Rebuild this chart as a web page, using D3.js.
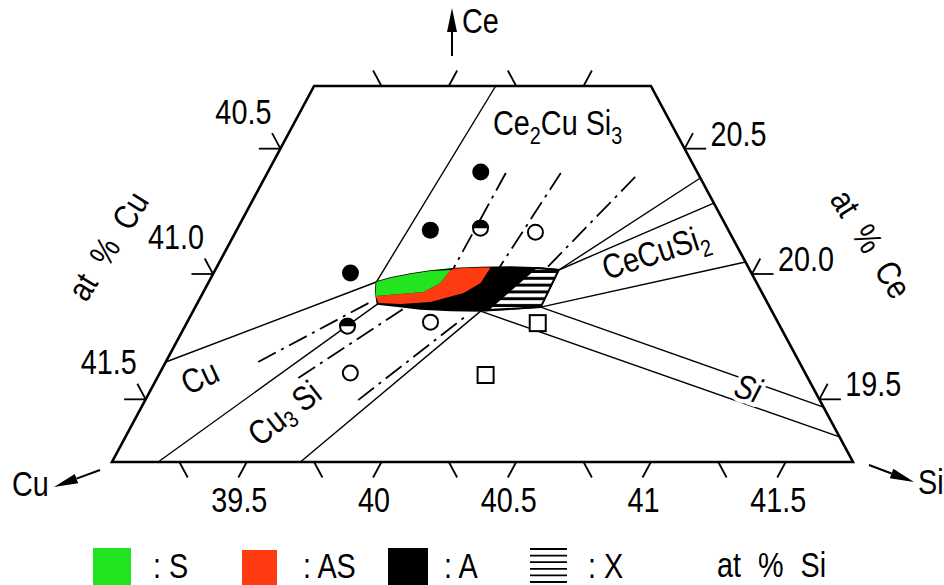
<!DOCTYPE html>
<html>
<head>
<meta charset="utf-8">
<script src="https://cdn.jsdelivr.net/npm/d3@7"></script>
<style>
  body { margin: 0; background: #fff; }
  text { font-family: "Liberation Sans", Arial, sans-serif; fill: #000; }
</style>
</head>
<body>
<svg id="chart" width="944" height="585"></svg>
<script>
// compositions are [at% Si, at% Ce]; Cu = 100 - Si - Ce
const siMin = 39, cuMin = 39, ceMin = 19.25, ceMax = 20.75;

const siTicks = [39.5, 40, 40.5, 41, 41.5];
const siTickLabels = ['39.5', '40', '40.5', '41', '41.5'];
const cuTicksBottom = [41.5, 41, 40.5, 40, 39.5];
const siTicksTop = [39.5, 40];
const cuTicksTop = [40, 39.5];
const cuTicks = [40.5, 41.0, 41.5];
const cuTickLabels = ['40.5', '41.0', '41.5'];
const ceTicks = [20.5, 20.0, 19.5];
const ceTickLabels = ['20.5', '20.0', '19.5'];

// homogeneity region of the ternary phase
const lensOutline = [
  [39.622, 19.968], [39.666, 19.984], [39.733, 20.000], [39.801, 20.012], [39.889, 20.022],
  [39.980, 20.026], [40.091, 20.028], [40.204, 20.024], [40.275, 20.016], [40.282, 19.868],
  [40.175, 19.860], [40.067, 19.852], [39.955, 19.854], [39.840, 19.860], [39.741, 19.872],
  [39.670, 19.880], [39.639, 19.928]
];
const phaseS = [
  [39.622, 19.968], [39.666, 19.984], [39.733, 20.000], [39.801, 20.012], [39.874, 20.016],
  [39.862, 19.964], [39.817, 19.928], [39.736, 19.920], [39.647, 19.912], [39.639, 19.928]
];
const phaseAS = [
  [39.874, 20.016], [39.889, 20.022], [39.980, 20.026], [40.017, 20.026], [40.011, 19.964],
  [39.968, 19.924], [39.863, 19.888], [39.756, 19.880], [39.672, 19.884], [39.647, 19.912],
  [39.736, 19.920], [39.817, 19.928], [39.862, 19.964]
];
const phaseX = [[40.185, 20.024], [40.275, 20.016], [40.282, 19.868], [40.091, 19.856]];

// phase boundaries (solid) and tie lines through samples (dash-dot)
const boundaryLines = [
  [[39.674, 20.750], [39.622, 19.968]],
  [[39.000, 19.649], [39.622, 19.968]],
  [[39.171, 19.250], [39.670, 19.880]],
  [[39.699, 19.250], [40.067, 19.852]],
  [[40.275, 20.016], [40.617, 20.383]],
  [[40.275, 20.016], [40.717, 20.283]],
  [[40.282, 19.868], [40.952, 20.048]],
  [[40.282, 19.868], [41.531, 19.469]],
  [[40.067, 19.852], [41.650, 19.350]]
];
const tieLines = [
  [[39.885, 20.403], [39.881, 20.024]],
  [[40.089, 20.403], [40.050, 20.028]],
  [[40.373, 20.387], [40.226, 20.024]],
  [[39.343, 19.649], [39.640, 19.888]],
  [[39.524, 19.585], [39.786, 19.872]],
  [[39.790, 19.497], [40.028, 19.840]]
];

const fullDots = [[39.790, 20.407], [39.719, 20.175], [39.508, 20.004]];
const halfDots = [[39.901, 20.183], [39.603, 19.792]];
const openDots = [[40.113, 20.167], [39.903, 19.808], [39.707, 19.605]];
const squares = [[40.303, 19.804], [40.213, 19.597]];

const svg = d3.select('#chart');

const xS = d3.scaleLinear().domain([siMin, 100 - cuMin - ceMin]).range([112, 853]);
const yS = d3.scaleLinear().domain([ceMin, ceMax]).range([462, 86]);
const pt = d => [xS(d[0] + (d[1] - ceMin) / 2), yS(d[1])];
const path = d3.line().x(d => pt(d)[0]).y(d => pt(d)[1]);

// narrow, tall lettering like the drawing
function txt(x, y, parts, opts = {}) {
  const t = svg.append('text')
    .attr('transform', `translate(${x},${y}) rotate(${opts.rot || 0}) scale(0.9,1.07)`)
    .attr('text-anchor', opts.anchor || 'start')
    .attr('font-size', 32);
  if (opts.central) t.attr('dominant-baseline', 'central');
  if (opts.italic) t.attr('font-style', 'italic');
  if (opts.wide) t.attr('word-spacing', 10);
  if (opts.halo) t.attr('stroke', '#fff').attr('stroke-width', 8).attr('paint-order', 'stroke');
  if (typeof parts === 'string') parts = [[parts]];
  let down = 0;
  parts.forEach(([s, sub]) => {
    const ts = t.append('tspan').text(s);
    if (sub) { ts.attr('font-size', 22).attr('dy', 8 - down); down = 8; }
    else { ts.attr('dy', -down); down = 0; }
  });
  return t;
}

const defs = svg.append('defs');
const pat = defs.append('pattern')
  .attr('id', 'hatch')
  .attr('patternUnits', 'userSpaceOnUse')
  .attr('width', 10).attr('height', 6.8)
  .attr('y', 1);
pat.append('rect').attr('width', 10).attr('height', 6.8).attr('fill', '#000');
pat.append('rect').attr('width', 10).attr('height', 3.8).attr('fill', '#fff');

// frame
const frame = [[siMin, ceMin], [100 - cuMin - ceMin, ceMin], [100 - cuMin - ceMax, ceMax], [siMin, ceMax]];
svg.append('path')
  .attr('d', path(frame) + 'Z')
  .attr('fill', 'none')
  .attr('stroke', '#000')
  .attr('stroke-width', 2.6);

// ticks
const tl = 0.062, hl = 0.08;
const ticks = [];
siTicks.forEach(s => ticks.push({ p: [s, ceMin], d: [0, -tl] }));
cuTicksBottom.forEach(c => ticks.push({ p: [100 - c - ceMin, ceMin], d: [tl, -tl] }));
siTicksTop.forEach(s => ticks.push({ p: [s, ceMax], d: [0, tl] }));
cuTicksTop.forEach(c => ticks.push({ p: [100 - c - ceMax, ceMax], d: [-tl, tl] }));
cuTicks.forEach(c => {
  const p = [siMin, 100 - siMin - c];
  ticks.push({ p, d: [-hl, 0] });
  ticks.push({ p, d: [-tl, tl] });
});
ceTicks.forEach(e => {
  const p = [100 - cuMin - e, e];
  ticks.push({ p, d: [hl, 0] });
  ticks.push({ p, d: [0, tl] });
});
svg.append('g').selectAll('path')
  .data(ticks)
  .enter().append('path')
  .attr('d', t => path([t.p, [t.p[0] + t.d[0], t.p[1] + t.d[1]]]))
  .attr('stroke', '#000')
  .attr('stroke-width', 1.8);

// tick labels
siTicks.forEach((s, i) => {
  txt(pt([s, ceMin - tl])[0] + 1, yS(ceMin) + 50, siTickLabels[i], { anchor: 'middle' });
});
cuTicks.forEach((c, i) => {
  const p = pt([siMin, 100 - siMin - c]);
  txt(p[0] - 9, p[1] - 25, cuTickLabels[i], { anchor: 'end' });
});
ceTicks.forEach((e, i) => {
  const p = pt([100 - cuMin - e, e]);
  txt(p[0] + 26, p[1] - 3, ceTickLabels[i]);
});

// boundaries
svg.append('g').selectAll('path')
  .data(boundaryLines)
  .enter().append('path')
  .attr('d', path)
  .attr('fill', 'none')
  .attr('stroke', '#000')
  .attr('stroke-width', 1.4);

svg.append('g').selectAll('path')
  .data(tieLines)
  .enter().append('path')
  .attr('d', path)
  .attr('fill', 'none')
  .attr('stroke', '#000')
  .attr('stroke-width', 1.8)
  .attr('stroke-dasharray', '20,6,3,6');

// phase region
svg.append('path').attr('d', path(lensOutline) + 'Z')
  .attr('fill', '#000').attr('stroke', '#000').attr('stroke-width', 1.5);
svg.append('path').attr('d', path(phaseX) + 'Z')
  .attr('fill', 'url(#hatch)').attr('stroke', '#000').attr('stroke-width', 2);
svg.append('path').attr('d', path(phaseAS) + 'Z')
  .attr('fill', '#ff3b12');
svg.append('path').attr('d', path(phaseS) + 'Z')
  .attr('fill', '#22e41f');

// samples
svg.append('g').selectAll('circle')
  .data(fullDots)
  .enter().append('circle')
  .attr('cx', d => pt(d)[0]).attr('cy', d => pt(d)[1])
  .attr('r', 8.5).attr('fill', '#000');

svg.append('g').selectAll('circle')
  .data(openDots.concat(halfDots))
  .enter().append('circle')
  .attr('cx', d => pt(d)[0]).attr('cy', d => pt(d)[1])
  .attr('r', 7.5).attr('fill', '#fff').attr('stroke', '#000').attr('stroke-width', 2);

svg.append('g').selectAll('path')
  .data(halfDots)
  .enter().append('path')
  .attr('transform', d => `translate(${pt(d)[0]},${pt(d)[1]})`)
  .attr('d', 'M-8.5,0A8.5,8.5 0 0 1 8.5,0Z')
  .attr('fill', '#000');

svg.append('g').selectAll('rect')
  .data(squares)
  .enter().append('rect')
  .attr('x', d => pt(d)[0] - 8).attr('y', d => pt(d)[1] - 8)
  .attr('width', 16).attr('height', 16)
  .attr('fill', '#fff').attr('stroke', '#000').attr('stroke-width', 2);

// region labels
function label(c, rot, parts, opts = {}) {
  const [x, y] = pt(c);
  return txt(x, y, parts, Object.assign({ rot, anchor: 'middle', central: true }, opts));
}
label([39.762, 20.554], 0, [['Ce'], ['2', 1], ['Cu Si'], ['3', 1]], { anchor: 'start', central: false });
label([40.473, 19.976], -18, [['CeCuSi'], ['2', 1]], { anchor: 'start', central: false });
label([39.156, 19.589], -25, [['Cu']]);
label([39.542, 19.445], -38, [['Cu'], ['3', 1], [' Si']]);
label([41.213, 19.545], 18, [['Si']], { italic: true, halo: true });

// component arrows
const arrows = [
  { from: [452, 56], to: [452, 8] },
  { from: [100, 470], to: [54, 487] },
  { from: [869, 465], to: [914, 482] }
];
arrows.forEach(a => {
  const dx = a.to[0] - a.from[0], dy = a.to[1] - a.from[1];
  const L = Math.hypot(dx, dy), ux = dx / L, uy = dy / L;
  const bx = a.to[0] - ux * 24, by = a.to[1] - uy * 24;
  svg.append('line')
    .attr('x1', a.from[0]).attr('y1', a.from[1]).attr('x2', bx).attr('y2', by)
    .attr('stroke', '#000').attr('stroke-width', 2);
  svg.append('path')
    .attr('d', `M${a.to[0]},${a.to[1]}L${bx - uy * 5},${by + ux * 5}L${bx + uy * 5},${by - ux * 5}Z`)
    .attr('fill', '#000');
});
txt(462, 33, 'Ce');
txt(12, 496, 'Cu');
txt(918, 494, 'Si');

// axis titles
txt(108, 246, 'at % Cu', { rot: -58, anchor: 'middle', central: true, wide: true });
txt(871, 244, 'at % Ce', { rot: 58, anchor: 'middle', central: true, wide: true });
txt(717, 577, 'at % Si', { wide: true });

// legend
svg.append('rect').attr('x', 93).attr('y', 548).attr('width', 38).attr('height', 37).attr('fill', '#22e41f');
txt(153, 578, ': S');
svg.append('rect').attr('x', 242).attr('y', 550).attr('width', 35).attr('height', 35).attr('fill', '#ff3b12');
txt(303, 578, ': AS');
svg.append('rect').attr('x', 388).attr('y', 548).attr('width', 40).attr('height', 37).attr('fill', '#000');
txt(444, 578, ': A');
svg.append('g').selectAll('line')
  .data(d3.range(6))
  .enter().append('line')
  .attr('x1', 530).attr('x2', 567)
  .attr('y1', i => 549 + i * 6.6).attr('y2', i => 549 + i * 6.6)
  .attr('stroke', '#000').attr('stroke-width', 1.8);
txt(588, 578, ': X');
</script>
</body>
</html>
